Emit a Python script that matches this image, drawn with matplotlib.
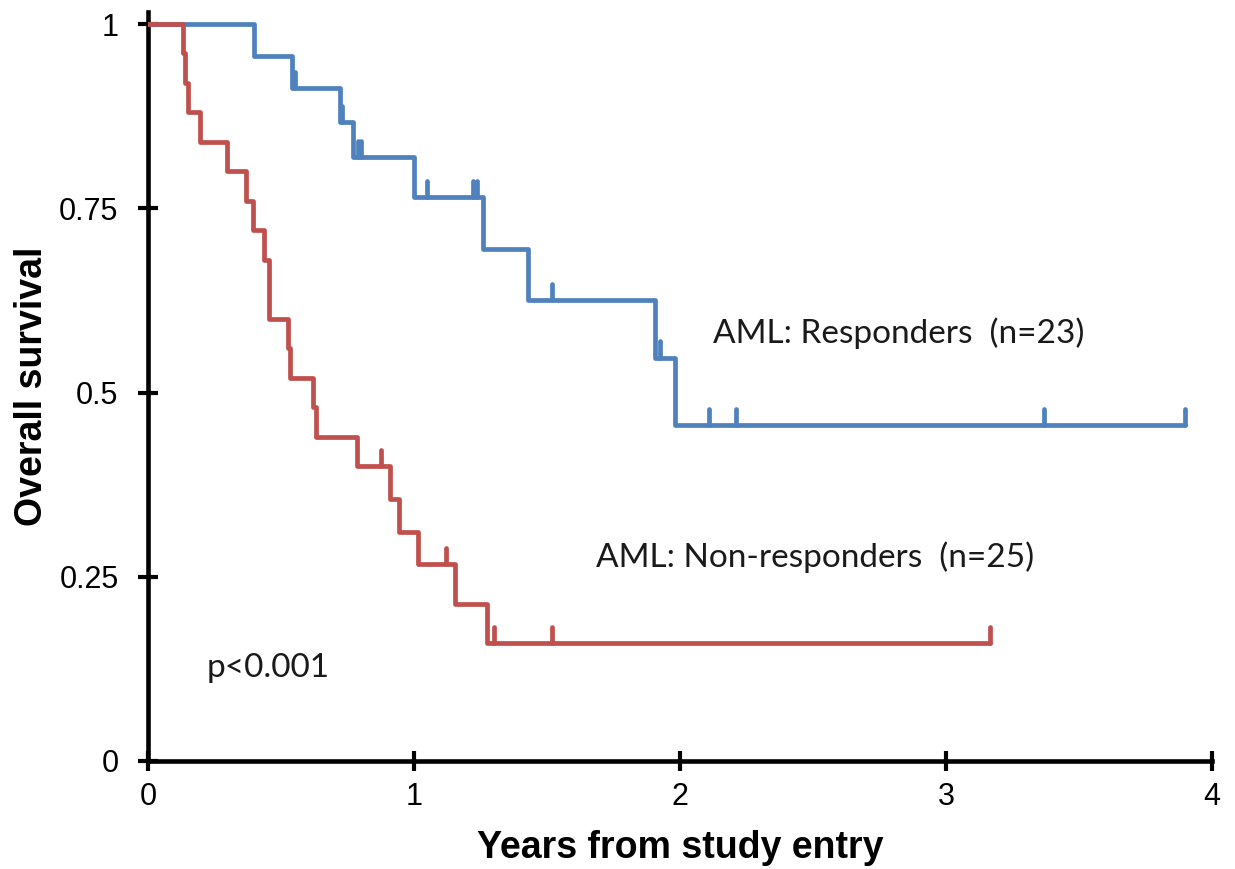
import numpy as np
import matplotlib
matplotlib.use("Agg")
import matplotlib.pyplot as plt

# ---- data ----
resp_times = [0.0, 0.40, 0.54, 0.72, 0.77, 1.00, 1.26, 1.43, 1.906, 1.98]
resp_surv = [1.0, 0.9565, 0.913, 0.8674, 0.8192, 0.7646, 0.695, 0.6256, 0.5474, 0.4561]
resp_end = 3.90
resp_censor = [0.553, 0.73, 0.79, 0.80, 1.05, 1.22, 1.235, 1.52, 1.925, 2.11, 2.21, 3.37, 3.90]

nonresp_times = [0.0, 0.13, 0.14, 0.15, 0.196, 0.296, 0.368, 0.396, 0.436, 0.456,
                 0.525, 0.535, 0.622, 0.63, 0.785, 0.91, 0.944, 1.016, 1.154, 1.273]
nonresp_surv = [1.0, 0.96, 0.92, 0.88, 0.84, 0.80, 0.76, 0.72, 0.68, 0.60,
                0.56, 0.52, 0.48, 0.44, 0.40, 0.3556, 0.3111, 0.2667, 0.2133, 0.16]
nonresp_end = 3.165
nonresp_censor = [0.877, 1.12, 1.30, 1.52, 3.165]

x_ticks = [0, 1, 2, 3, 4]
y_ticks = [0, 0.25, 0.5, 0.75, 1]
y_ticklabels = ["0", "0.25", "0.5", "0.75", "1"]

BLUE = "#4F81BD"
RED = "#C0504D"

fig = plt.figure(figsize=(12.35, 8.69), dpi=100)
ax = fig.add_axes([148 / 1235, 1 - 761 / 869, (1212 - 148) / 1235, (761 - 12) / 869])

LW = 3.4
CENS_H = 0.022


def surv_at(times, surv, t):
    idx = np.searchsorted(np.asarray(times), t, side="right") - 1
    return np.asarray(surv)[idx]


def draw_curve(times, surv, end, censor, color):
    xs = list(times) + [end]
    ys = list(surv) + [surv[-1]]
    ax.step(xs, ys, where="post", color=color, lw=LW, solid_joinstyle="round",
            solid_capstyle="round", zorder=3)
    cy = surv_at(times, surv, np.asarray(censor))
    ax.vlines(censor, cy, cy + CENS_H, color=color, lw=LW, zorder=3,
              capstyle="round")


draw_curve(resp_times, resp_surv, resp_end, resp_censor, BLUE)
draw_curve(nonresp_times, nonresp_surv, nonresp_end, nonresp_censor, RED)

ax.set_xlim(0, 4)
ax.set_ylim(0, (761 - 12) / 737)
for s in ["top", "right"]:
    ax.spines[s].set_visible(False)
for s in ["left", "bottom"]:
    ax.spines[s].set_linewidth(3.3)
    ax.spines[s].set_color("black")
ax.spines["bottom"].set_zorder(4)

tick_font = dict(family="Liberation Sans", size=22)
ax.set_xticks(x_ticks)
ax.set_xticklabels([str(v) for v in x_ticks], fontdict=tick_font)
ax.set_yticks(y_ticks)
ax.set_yticklabels(y_ticklabels, fontdict=tick_font)
ax.tick_params(axis="both", direction="inout", length=14.4, width=3.0, color="black")
ax.tick_params(axis="y", pad=14)
ax.tick_params(axis="x", pad=8)

lab_font = dict(family="Liberation Sans", size=27, weight="bold")
ax.set_xlabel("Years from study entry", fontdict=lab_font)
ax.set_ylabel("Overall survival", fontdict=lab_font)
ax.xaxis.set_label_coords(0.5, -0.092)
ax.yaxis.set_label_coords(-0.092, 0.5)

ann_font = dict(family="Lato", size=24, color="#1a1a1a")
ax.text(2.124, 0.567, "AML: Responders  (n=23)", ha="left", va="baseline", **ann_font)
ax.text(1.686, 0.263, "AML: Non-responders  (n=25)", ha="left", va="baseline", **ann_font)
ax.text(0.222, 0.114, "p<0.001", ha="left", va="baseline", **ann_font)

fig.savefig("out.png", dpi=100)
